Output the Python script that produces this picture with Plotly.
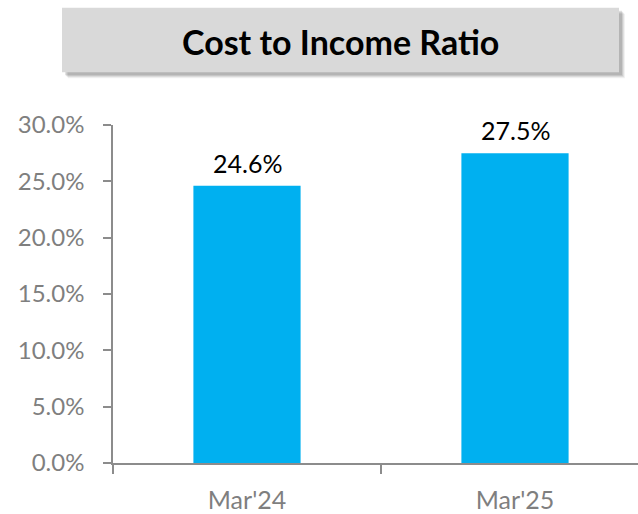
import plotly.graph_objects as go

categories = ["Mar'24", "Mar'25"]
values = [24.6, 27.5]
labels = ["24.6%", "27.5%"]
tick_vals = [0, 5, 10, 15, 20, 25, 30]
tick_text = ["0.0%", "5.0%", "10.0%", "15.0%", "20.0%", "25.0%", "30.0%"]
title_text = "Cost to Income Ratio"

FONT = "Lato, 'Open Sans', sans-serif"
W, H = 638, 514
L, R, T, B = 113, 0, 125, 49
PW, PH = W - L - R, H - T - B

fig = go.Figure()
fig.add_trace(go.Bar(x=categories, y=values, width=0.4,
                     marker=dict(color="#00B0F0", line=dict(width=0)),
                     hoverinfo="skip"))

for c, v, t in zip(categories, values, labels):
    fig.add_annotation(x=c, y=v, text=t, showarrow=False, yanchor="bottom",
                       yshift=6, font=dict(family=FONT, size=25, color="#000000"))

# title box with shadow (pixel -> paper conversion relative to plot area)
def px2x(p):
    return (p - L) / PW
def px2y(p):
    return (H - B - p) / PH

for off, op in [(6, 0.05), (5, 0.07), (4, 0.09), (3, 0.11)]:
    fig.add_shape(type="rect", xref="paper", yref="paper",
                  x0=px2x(62 + off), x1=px2x(619 + off),
                  y0=px2y(72 + off), y1=px2y(7 + off),
                  fillcolor=f"rgba(0,0,0,{op})", line=dict(width=0), layer="below")
fig.add_shape(type="rect", xref="paper", yref="paper",
              x0=px2x(62), x1=px2x(619), y0=px2y(72), y1=px2y(7),
              fillcolor="#D9D9D9", line=dict(width=0), layer="below")
fig.add_annotation(xref="paper", yref="paper", x=px2x(340.5), y=px2y(41),
                   text=f"<b>{title_text}</b>", showarrow=False,
                   xanchor="center", yanchor="middle",
                   font=dict(family=FONT, size=34, color="#000000"))

fig.update_layout(
    width=W, height=H,
    margin=dict(l=L, r=R, t=T, b=B, pad=0),
    paper_bgcolor="white", plot_bgcolor="rgba(0,0,0,0)",
    showlegend=False,
    xaxis=dict(type="category", range=[-0.5, -0.5 + 525 / 268],
               showline=True, linecolor="#8C8C8C", linewidth=1.5,
               ticks="outside", tickson="boundaries", ticklen=9,
               tickcolor="#8C8C8C", tickwidth=1.5,
               tickfont=dict(family=FONT, size=25, color="#7F7F7F"),
               ticklabelstandoff=14, showgrid=False, zeroline=False),
    yaxis=dict(range=[0, 30], tickvals=tick_vals, ticktext=tick_text,
               showline=True, linecolor="#8C8C8C", linewidth=1.5,
               ticks="outside", ticklen=8, tickcolor="#8C8C8C", tickwidth=1.5,
               tickfont=dict(family=FONT, size=24, color="#7F7F7F"),
               ticklabelstandoff=14, showgrid=False, zeroline=False),
)

fig.write_html("out.html", config={"displayModeBar": False},
               post_script="document.body.style.margin='0';")
